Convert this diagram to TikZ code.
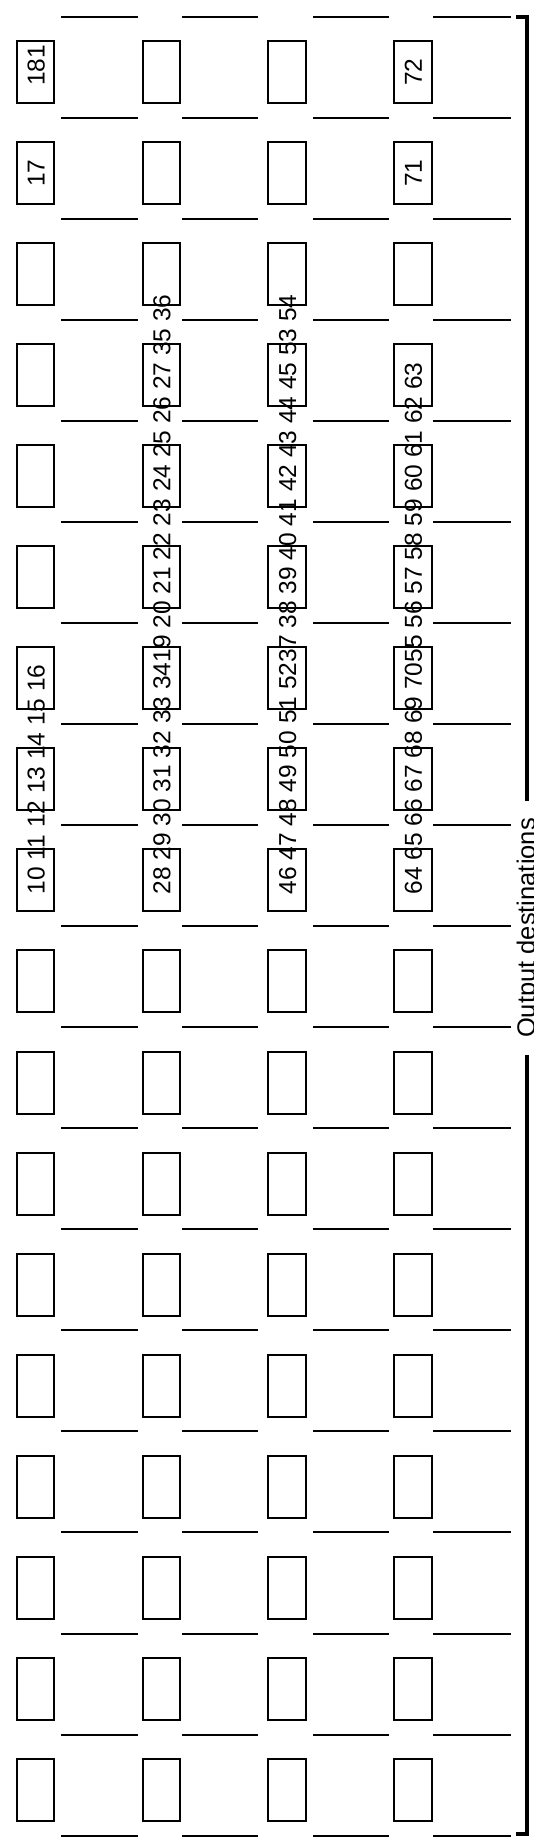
\documentclass[tikz,border=0pt]{standalone}
\usepackage{fontspec}
\setmainfont{Liberation Sans}
\usetikzlibrary{positioning}

\begin{document}
\begin{tikzpicture}[
      x=1pt, y=-1pt,
      cell/.style = {draw, line width=2pt, minimum width=37.5pt,
                     minimum height=62pt, inner sep=0pt, outer sep=0pt},
      rule/.style = {line width=2pt},
      dest/.style = {rotate=90, anchor=base west, inner sep=0pt,
                     font=\fontsize{24.5}{29}\selectfont},
      heading/.style = {rotate=90, anchor=base, inner xsep=17pt, inner ysep=0pt,
                        font=\fontsize{25.5}{30}\selectfont},
      bracket/.style = {line width=4pt},
    ]
    \useasboundingbox (0,0) rectangle (534,1840);

    %% The cells: four columns of eighteen rows
    \foreach \c in {1,...,4}{%
      \foreach \r in {0,...,17}{%
        \node (cell\c-\r) [cell] at (35.7 + 125.7*\c - 125.7, 72 + 101.05*\r) {};
      }
    }

    %% The short rules between the rows
    \foreach \xa/\xb in {61/138, 182/258, 313/389, 433/511}{%
      \foreach \r in {0,...,18}{%
        \draw [rule] (\xa, 16.7 + 101.05*\r) -- (\xb, 16.7 + 101.05*\r);
      }
    }

    %% Destination numbers, written from the foot of their cell
    \node (d1-0) [dest] at ([xshift=9pt, yshift=17pt] cell1-0.south) {181};
    \node (d1-1) [dest] at ([xshift=9pt, yshift=17pt] cell1-1.south) {17};
    \node (d1-8) [dest] at ([xshift=9pt, yshift=17pt] cell1-8.south)
      {10 11 12 13 14 15 16};

    \node (d2-8) [dest] at ([xshift=9pt, yshift=17pt] cell2-8.south)
      {28 29 30 31 32 33 34};
    \node (d2-x) [dest] at (d2-8.base east) {19 20 21 22 23 24 25 26 27 35 36};

    \node (d3-8) [dest] at ([xshift=9pt, yshift=17pt] cell3-8.south)
      {46 47 48 49 50 51 52};
    \node (d3-x) [dest] at (d3-8.base east) {37 38 39 40 41 42 43 44 45 53 54};

    \node (d4-0) [dest] at ([xshift=9pt, yshift=17pt] cell4-0.south) {72};
    \node (d4-1) [dest] at ([xshift=9pt, yshift=17pt] cell4-1.south) {71};
    \node (d4-8) [dest] at ([xshift=9pt, yshift=17pt] cell4-8.south)
      {64 65 66 67 68 69 70};
    \node (d4-x) [dest] at (d4-8.base east) {55 56 57 58 59 60 61 62 63};

    %% The bracket on the right with its label
    \node (outputs) [heading] at (535, 928) {Output destinations};
    \coordinate (top) at (527, 17);
    \coordinate (bottom) at (527, 1834);
    \draw [bracket] ([xshift=-11pt] top) -- (top) -- (top |- outputs.east);
    \draw [bracket] ([xshift=-11pt] bottom) -- (bottom) -- (bottom |- outputs.west);
  \end{tikzpicture}
\end{document}
